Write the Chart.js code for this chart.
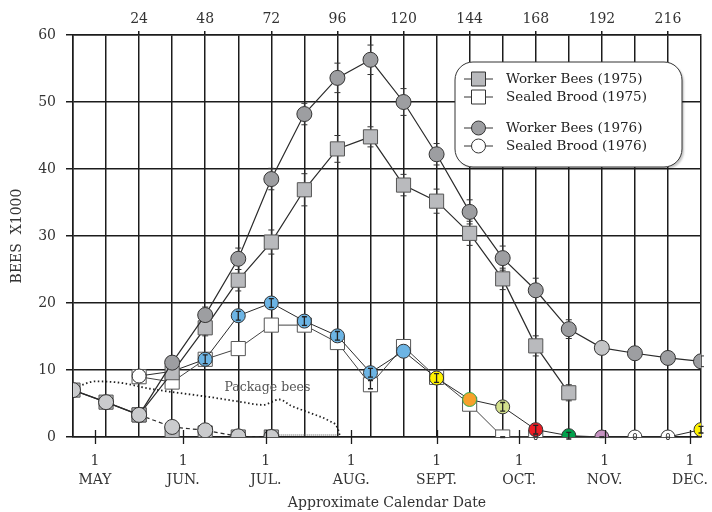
<!DOCTYPE html>
<html>
<head>
<meta charset="utf-8">
<title>Bee colony population</title>
<script src="https://cdn.jsdelivr.net/npm/chart.js@4.4.1/dist/chart.umd.min.js"></script>
<style>
  html, body { margin: 0; padding: 0; background: #fff; }
  #wrap { width: 712px; height: 512px; }
</style>
</head>
<body>
<div id="wrap"><canvas id="beeChart" width="712" height="512"></canvas></div>
<script>
// sampling days (every 12 days from the first count)
const days = [0, 12, 24, 36, 48, 60, 72, 84, 96, 108, 120, 132, 144, 156, 168, 180, 192, 204, 216, 228];

// bees x1000, null = no count that day
const worker1975 = [7.0, 5.2, 3.3, 9.6, 16.3, 23.4, 29.1, 36.9, 43.0, 44.8, 37.6, 35.2, 30.4, 23.6, 13.6, 6.6, null, null, null, null];
const worker1976 = [7.0, 5.2, 3.3, 11.1, 18.2, 26.6, 38.5, 48.2, 53.6, 56.3, 50.0, 42.2, 33.6, 26.7, 21.9, 16.1, 13.3, 12.5, 11.8, 11.3];
const brood1975 = [null, null, 9.0, 8.2, 11.6, 13.2, 16.7, 16.7, 14.1, 7.8, 13.5, 8.9, 4.9, 0, 0, null, null, null, null, null];
const brood1976 = [null, null, 9.1, 9.8, 11.6, 18.1, 20.0, 17.3, 15.1, 9.6, 12.8, 8.8, 5.6, 4.5, 1.1, 0.2, 0, 0, 0, 1.1];

// standard errors
const worker1975Err = [0, 0, 0, 0.8, 1.2, 1.6, 1.8, 2.4, 2.0, 1.5, 1.6, 1.8, 1.8, 1.6, 1.5, 1.2, 0, 0, 0, 0];
const worker1976Err = [0, 0, 0, 0.8, 1.2, 1.6, 1.6, 1.6, 2.2, 2.2, 2.0, 1.6, 1.8, 1.8, 1.8, 1.4, 0.8, 0.8, 0.8, 0.8];
const brood1975Err = [0, 0, 0, 0, 0, 0, 0, 0, 0, 0.6, 0, 0, 0, 0, 0, 0, 0, 0, 0, 0];
const brood1976Err = [0, 0, 0, 0, 0.65, 0.65, 0.65, 0.65, 0.65, 0.65, 0, 0.65, 0, 0.65, 0.65, 0.5, 0, 0, 0, 0.5];
const brood1975Marks = ['', '', '', '', '', '', '', '', '', '', '', '', '', '-', '0', '', '', '', '', ''];
const brood1976Marks = ['', '', '', '', '', '', '', '', '', '', '', '', '', '', '', '', '-', '0', '0', ''];

// package bees dying off (both years)
const packageDays = [24, 36, 48, 60, 72];
const packageCircles = [3.3, 1.5, 1.0, 0.1, 0.0];
const packageSquares = [3.3, 0.5, 0.6, 0.0, 0.0];
const packageTailDays = [72, 96];
const packageTail = [0.3, 0.3];

// dotted "Package bees" curve
const curveDays = [2, 8, 17, 28, 38, 49, 60, 69, 75, 79, 86, 93, 96, 97];
const curveVals = [7.6, 8.3, 8.1, 7.2, 6.6, 6.0, 5.3, 4.8, 5.6, 4.7, 3.6, 2.4, 1.4, 0];

// axes
const topTicks = [24, 48, 72, 96, 120, 144, 168, 192, 216];
const monthDays = [8, 40, 70, 101, 132, 162, 193, 224];
const monthLabels = ['MAY', 'JUN.', 'JUL.', 'AUG.', 'SEPT.', 'OCT.', 'NOV.', 'DEC.'];

const SERIF = '"DejaVu Serif", "Liberation Serif", serif';
const INK = '#2a2a2a';
const GRID = '#1c1c1c';

const toPts = (xs, ys) => xs.map((x, i) => ({ x: x, y: ys[i] }));

const brood1976Fill = ['#fff', '#fff', '#fff', '#fff', '#6cb4e4', '#6cb4e4', '#6cb4e4', '#6cb4e4', '#6cb4e4', '#6cb4e4', '#6cb4e4',
  '#fff200', '#f7a12b', '#d3e08c', '#ec1c24', '#00a14b', '#c592c1', '#fff', '#fff', '#fff200'];
const brood1976Edge = brood1976Fill.map((c, i) => i === 12 ? '#2fa84f' : '#333');
const worker1976Fill = worker1976.map((v, i) => (i < 3 ? '#cacbcd' : (i === 16 ? '#c3c4c6' : '#9d9ea1')));
const brood1976Radius = brood1976.map((v, i) => (i === 3 ? 0 : 7));

// error bars and little glyphs inside the markers
const errorBars = {
  id: 'errorBars',
  drawBars(chart, top) {
    const ctx = chart.ctx;
    chart.data.datasets.forEach((ds, di) => {
      if (!ds.errors || !!ds.errOnTop !== top) return;
      const meta = chart.getDatasetMeta(di);
      const ys = chart.scales.y;
      meta.data.forEach((pt, i) => {
        const v = ds.data[i].y, e = ds.errors[i];
        if (v === null || !e) return;
        const y1 = ys.getPixelForValue(v + e), y2 = ys.getPixelForValue(v - e);
        const w = top ? 2.5 : 3;
        ctx.save();
        ctx.strokeStyle = top ? '#222' : '#333';
        ctx.lineWidth = top ? 1.3 : 1;
        ctx.beginPath();
        ctx.moveTo(pt.x, y1); ctx.lineTo(pt.x, y2);
        ctx.moveTo(pt.x - w, y1); ctx.lineTo(pt.x + w, y1);
        ctx.moveTo(pt.x - w, y2); ctx.lineTo(pt.x + w, y2);
        ctx.stroke();
        ctx.restore();
      });
    });
  },
  beforeDatasetsDraw(chart) { this.drawBars(chart, false); },
  afterDatasetsDraw(chart) {
    this.drawBars(chart, true);
    const ctx = chart.ctx;
    chart.data.datasets.forEach((ds, di) => {
      if (!ds.marks) return;
      const meta = chart.getDatasetMeta(di);
      meta.data.forEach((pt, i) => {
        const m = ds.marks[i];
        if (!m) return;
        ctx.save();
        ctx.fillStyle = '#333';
        ctx.textAlign = 'center';
        ctx.textBaseline = 'middle';
        if (m === '-') {
          ctx.fillRect(pt.x - 2.5, pt.y - 1, 5, 2.2);
        } else {
          ctx.font = '9px "DejaVu Sans Mono", monospace';
          ctx.fillText(m, pt.x, pt.y + 0.5);
        }
        ctx.restore();
      });
    });
    // curve label
    const xs = chart.scales.x, ys = chart.scales.y;
    ctx.save();
    ctx.font = '12.5px ' + SERIF;
    ctx.fillStyle = '#555';
    ctx.textBaseline = 'middle';
    ctx.fillText('Package bees', xs.getPixelForValue(55), ys.getPixelForValue(7.3));
    ctx.restore();
  }
};

// month ticks crossing the bottom line
const monthTicks = {
  id: 'monthTicks',
  afterDraw(chart) {
    const ctx = chart.ctx, xs = chart.scales.x, b = chart.chartArea.bottom;
    ctx.save();
    ctx.strokeStyle = GRID;
    ctx.lineWidth = 1.3;
    monthDays.forEach(d => {
      const px = Math.round(xs.getPixelForValue(d)) + 0.5;
      ctx.beginPath();
      ctx.moveTo(px, b - 7); ctx.lineTo(px, b + 7);
      ctx.stroke();
    });
    ctx.restore();
  }
};

// rounded legend box with shadow
const boxLegend = {
  id: 'boxLegend',
  afterDraw(chart) {
    const ctx = chart.ctx;
    const bx = 455, by = 62, bw = 227, bh = 105, r = 18;
    ctx.save();
    ctx.shadowColor = 'rgba(0,0,0,0.22)';
    ctx.shadowOffsetX = 2;
    ctx.shadowOffsetY = 2;
    ctx.shadowBlur = 2;
    ctx.beginPath();
    ctx.roundRect(bx, by, bw, bh, r);
    ctx.fillStyle = '#fff';
    ctx.fill();
    ctx.shadowColor = 'transparent';
    ctx.strokeStyle = '#333';
    ctx.lineWidth = 1;
    ctx.stroke();

    const rows = [
      { text: 'Worker Bees (1975)', shape: 'rect', fill: '#b9babd', y: 79 },
      { text: 'Sealed Brood (1975)', shape: 'rect', fill: '#fff', y: 97 },
      { text: 'Worker Bees (1976)', shape: 'circle', fill: '#9d9ea1', y: 128 },
      { text: 'Sealed Brood (1976)', shape: 'circle', fill: '#fff', y: 146 }
    ];
    rows.forEach(row => {
      ctx.strokeStyle = '#333';
      ctx.lineWidth = 1;
      ctx.beginPath();
      ctx.moveTo(464, row.y); ctx.lineTo(493, row.y);
      ctx.stroke();
      ctx.fillStyle = row.fill;
      ctx.beginPath();
      if (row.shape === 'rect') ctx.rect(471.5, row.y - 7, 14, 14);
      else ctx.arc(478.5, row.y, 7, 0, Math.PI * 2);
      ctx.fill();
      ctx.stroke();
      ctx.fillStyle = '#222';
      ctx.font = '13.5px ' + SERIF;
      ctx.textBaseline = 'middle';
      ctx.fillText(row.text, 506, row.y);
    });
    ctx.restore();
  }
};

const lineBase = { borderColor: INK, borderWidth: 1.2, pointBorderColor: '#333', pointBorderWidth: 1, tension: 0, spanGaps: false };

// keep the label overhang from shrinking the plot area
const noSidePad = s => { s.paddingLeft = 0; s.paddingRight = 0; };

new Chart(document.getElementById('beeChart'), {
  type: 'line',
  data: {
    datasets: [
      Object.assign({}, lineBase, {
        label: 'Worker Bees (1976)', data: toPts(days, worker1976), errors: worker1976Err,
        pointStyle: 'circle', pointRadius: 7.5, pointBackgroundColor: worker1976Fill
      }),
      Object.assign({}, lineBase, {
        label: 'Worker Bees (1975)', data: toPts(days, worker1975), errors: worker1975Err,
        pointStyle: 'rect', pointRadius: 10, pointBackgroundColor: '#b9babd', pointBorderColor: '#555'
      }),
      Object.assign({}, lineBase, {
        label: 'Sealed Brood (1976)', data: toPts(days, brood1976), errors: brood1976Err, errOnTop: true,
        marks: brood1976Marks, borderWidth: 1,
        pointStyle: 'circle', pointRadius: brood1976Radius, pointBackgroundColor: brood1976Fill, pointBorderColor: brood1976Edge
      }),
      Object.assign({}, lineBase, {
        label: 'Sealed Brood (1975)', data: toPts(days, brood1975), errors: brood1975Err, errOnTop: true,
        marks: brood1975Marks, borderWidth: 1, borderColor: '#444',
        pointStyle: 'rect', pointRadius: 10, pointBackgroundColor: '#fff', pointBorderColor: '#555'
      }),
      Object.assign({}, lineBase, {
        label: 'Package bees', data: toPts(packageDays, packageCircles), borderDash: [4, 3],
        pointStyle: 'circle', pointRadius: 7.5, pointBackgroundColor: '#cacbcd'
      }),
      Object.assign({}, lineBase, {
        label: 'Package bees sq', data: toPts(packageDays, packageSquares), borderWidth: 0, showLine: false,
        pointStyle: 'rect', pointRadius: 10, pointBackgroundColor: '#b9babd', pointBorderColor: '#555'
      }),
      {
        label: 'Package tail', data: toPts(packageTailDays, packageTail), borderColor: '#888', borderWidth: 1.5,
        borderDash: [1, 1], pointRadius: 0
      },
      {
        label: 'Package curve', data: toPts(curveDays, curveVals), borderColor: '#222', borderWidth: 1.8,
        borderDash: [1.5, 2.5], pointRadius: 0, cubicInterpolationMode: 'monotone'
      }
    ]
  },
  options: {
    responsive: false,
    animation: false,
    devicePixelRatio: 1,
    layout: { padding: { left: 0, right: 9, top: 0, bottom: 0 } },
    plugins: { legend: { display: false }, tooltip: { enabled: false } },
    scales: {
      x: {
        type: 'linear', position: 'bottom', min: 0, max: 228,
        afterBuildTicks: s => { s.ticks = monthDays.map(v => ({ value: v })); },
        afterFit: s => { s.height = 75; noSidePad(s); },
        grid: { display: false },
        border: { display: true, color: GRID, width: 1.5 },
        ticks: {
          autoSkip: false, maxRotation: 0, padding: 7, color: '#333',
          font: { family: SERIF, size: 14, lineHeight: 1.35 },
          callback: (v, i) => ['1', monthLabels[i]]
        },
        title: {
          display: true, text: 'Approximate Calendar Date', color: '#333',
          font: { family: SERIF, size: 14 }, padding: { top: 0, bottom: 0 }
        }
      },
      xTop: {
        type: 'linear', position: 'top', min: 0, max: 228,
        afterFit: s => { s.height = 35; noSidePad(s); },
        grid: {
          color: GRID, lineWidth: 1.5, tickLength: 4,
          tickColor: c => (c.tick && topTicks.includes(c.tick.value)) ? GRID : 'rgba(0,0,0,0)'
        },
        border: { display: true, color: GRID, width: 1.5 },
        ticks: {
          stepSize: 12, autoSkip: false, maxRotation: 0, padding: 3, color: '#333',
          font: { family: SERIF, size: 14 },
          callback: v => topTicks.includes(v) ? String(v) : ''
        }
      },
      y: {
        min: 0, max: 60,
        afterFit: s => { s.width = 73; s.paddingTop = 0; s.paddingBottom = 0; },
        grid: { color: GRID, lineWidth: 1.5, tickLength: 7 },
        border: { display: true, color: GRID, width: 1.5 },
        ticks: { stepSize: 10, padding: 10, color: '#333', font: { family: SERIF, size: 14 } },
        title: {
          display: true, text: 'BEES  X1000', color: '#333',
          font: { family: SERIF, size: 14 }, padding: { top: 9, bottom: 0 }
        }
      }
    }
  },
  plugins: [errorBars, monthTicks, boxLegend]
});
</script>
</body>
</html>
